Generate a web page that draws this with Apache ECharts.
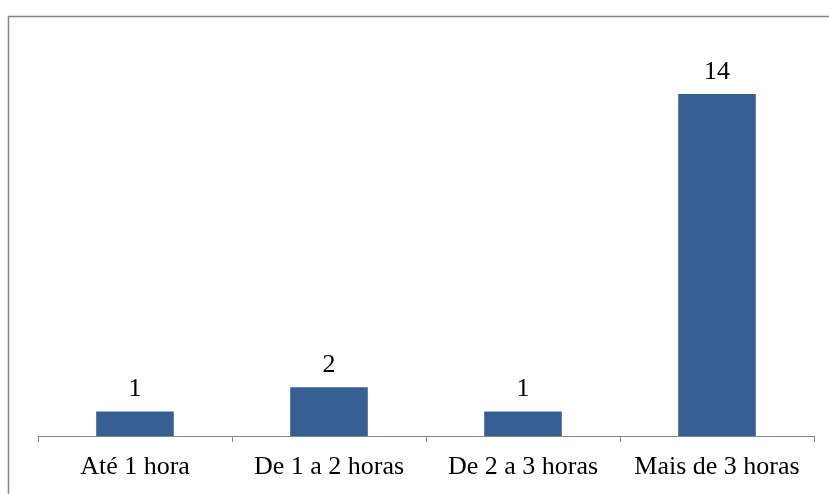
<!DOCTYPE html>
<html><head><meta charset="utf-8">
<script src="https://cdn.jsdelivr.net/npm/echarts@6/dist/echarts.min.js"></script>
<style>html,body{margin:0;padding:0;background:#fff}#c{width:829px;height:494px}</style>
</head><body><div id="c"></div>
<script>
const categories = ['Até 1 hora', 'De 1 a 2 horas', 'De 2 a 3 horas', 'Mais de 3 horas'];
const values = [1, 2, 1, 14];
const chart = echarts.init(document.getElementById('c'));
chart.setOption({
  animation: false,
  graphic: [{type: 'rect', shape: {x: 8.5, y: 16.5, width: 840, height: 500}, style: {fill: 'none', stroke: '#868686', lineWidth: 1.5}, z: -1}],
  grid: {left: 38, right: 15, top: 45, bottom: 58},
  xAxis: {
    type: 'category', data: categories,
    axisLine: {lineStyle: {color: '#868686', width: 1}},
    axisTick: {show: true, length: 6, lineStyle: {color: '#868686'}},
    axisLabel: {color: '#000', fontFamily: 'Liberation Serif', fontSize: 26, margin: 18, interval: 0, hideOverlap: false}
  },
  yAxis: {type: 'value', min: 0, max: 16, show: false, splitLine: {show: false}},
  series: [{
    type: 'bar', data: values, barWidth: '40%',
    itemStyle: {color: '#376092'},
    label: {show: true, position: 'top', distance: 9, color: '#000', fontFamily: 'Liberation Serif', fontSize: 26}
  }]
});
</script></body></html>
